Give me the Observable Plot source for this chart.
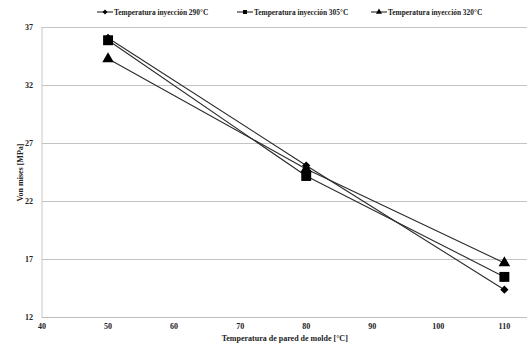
<!DOCTYPE html>
<html>
<head>
<meta charset="utf-8">
<script src="https://cdn.jsdelivr.net/npm/d3@7"></script>
<script src="https://cdn.jsdelivr.net/npm/@observablehq/plot@0.6"></script>
<style>
  body { margin: 0; background: #fff; font-family: "Liberation Serif", "DejaVu Serif", serif; }
  #legend { position: relative; height: 20px; width: 527px; font-size: 7.4px; font-weight: bold; color: #222; }
  .item { position: absolute; top: 7px; display: flex; align-items: center; white-space: nowrap; }
  .item svg { margin-right: 1px; }
</style>
</head>
<body>
<div id="legend"></div>
<div id="chart"></div>
<script>
// Wall temperature of the mould (°C)
const wallTemps = [50, 80, 110];
// Von Mises stress (MPa) for each injection temperature
const series290 = [36.1, 25.1, 14.4];
const series305 = [35.9, 24.2, 15.5];
const series320 = [34.3, 24.8, 16.7];
const seriesNames = [
  "Temperatura inyección 290°C",
  "Temperatura inyección 305°C",
  "Temperatura inyección 320°C"
];
const seriesSymbols = ["diamond2", "square", "triangle"];
const seriesRadius = [3.7, 5.6, 4.3];
const yTicks = [12, 17, 22, 27, 32, 37];
const xTicks = [40, 50, 60, 70, 80, 90, 100, 110];

const allSeries = [series290, series305, series320];
const rows = allSeries.flatMap((vals, i) =>
  vals.map((v, j) => ({ serie: seriesNames[i], t: wallTemps[j], s: v, k: i }))
);

const marks = [
  Plot.ruleY(yTicks.slice(1), { stroke: "#c4c4c4", strokeWidth: 1 }),
  Plot.ruleY([12], { stroke: "#bdbdbd", strokeWidth: 1 }),
  Plot.ruleX([40], { stroke: "#c8c8c8", strokeWidth: 1 }),
  Plot.axisX({ ticks: xTicks, tickSize: 0, tickPadding: 6, fontWeight: "bold", fontSize: 8, fill: "#222",
    label: "Temperatura de pared de molde [°C]", labelAnchor: "center", labelArrow: "none", labelOffset: 23 }),
  Plot.axisY({ ticks: yTicks, tickSize: 0, tickPadding: 9, fontWeight: "bold", fontSize: 8, fill: "#222",
    label: "Von mises [MPa]", labelAnchor: "center", labelArrow: "none", labelOffset: 25 })
];
allSeries.forEach((vals, i) => {
  const data = rows.filter(d => d.k === i);
  marks.push(Plot.line(data, { x: "t", y: "s", stroke: "#2a2a2a", strokeWidth: 1.1 }));
});
allSeries.forEach((vals, i) => {
  const data = rows.filter(d => d.k === i);
  marks.push(Plot.dot(data, { x: "t", y: "s", symbol: () => seriesSymbols[i], r: seriesRadius[i], fill: "#000", stroke: "none" }));
});

const chart = Plot.plot({
  width: 527,
  height: 323,
  marginTop: 7,
  marginBottom: 26,
  marginLeft: 41.5,
  marginRight: 0,
  style: { fontFamily: "'Liberation Serif', serif", fontSize: "8px", fontWeight: "bold", color: "#222", background: "#fff" },
  x: { domain: [40, 113.5] },
  y: { domain: [12, 37] },
  marks
});
document.getElementById("chart").appendChild(chart);

// Legend: short line with each series' marker
const legend = d3.select("#legend");
const lefts = [97, 237, 371];
seriesNames.forEach((name, i) => {
  const item = legend.append("div").attr("class", "item").style("left", lefts[i] + "px");
  const svg = item.append("svg").attr("width", 16).attr("height", 10);
  svg.append("line").attr("x1", 0).attr("x2", 16).attr("y1", 5).attr("y2", 5)
    .attr("stroke", "#2a2a2a").attr("stroke-width", 1.1);
  const sym = { diamond2: d3.symbolDiamond2, square: d3.symbolSquare, triangle: d3.symbolTriangle }[seriesSymbols[i]];
  svg.append("path").attr("transform", "translate(8,5)")
    .attr("d", d3.symbol(sym, 16)()).attr("fill", "#000");
  item.append("span").text(name);
});
</script>
</body>
</html>
